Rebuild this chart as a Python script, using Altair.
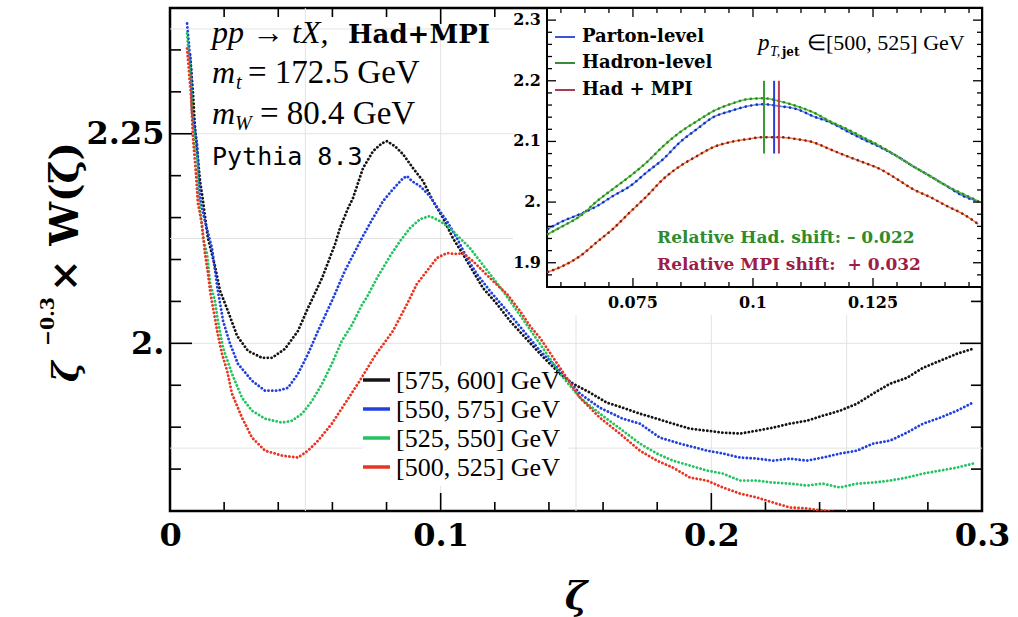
import altair as alt
import pandas as pd

# ----------------------------- main panel data -----------------------------
BINS = ["[575, 600] GeV", "[550, 575] GeV", "[525, 550] GeV", "[500, 525] GeV"]
BIN_COLORS = ["#141414", "#2040e0", "#22c460", "#ea3420"]

zeta_575 = [0.0074, 0.0085, 0.0092, 0.0111, 0.0122, 0.0140, 0.0166, 0.0185, 0.0211, 0.0248, 0.0288, 0.0340,
            0.0377, 0.0425, 0.0473, 0.0510, 0.0562, 0.0610, 0.0628, 0.0658, 0.0676, 0.0713, 0.0750, 0.0783,
            0.0802, 0.0831, 0.0861, 0.0898, 0.0935, 0.0972, 0.1009, 0.1045, 0.1082, 0.1119, 0.1156, 0.1208,
            0.1256, 0.1330, 0.1385, 0.1441, 0.1489, 0.1552, 0.1614, 0.1673, 0.1736, 0.1799, 0.1858, 0.1921,
            0.1984, 0.2043, 0.2106, 0.2168, 0.2228, 0.2290, 0.2353, 0.2412, 0.2475, 0.2538, 0.2597, 0.2660,
            0.2723, 0.2782, 0.2845, 0.2907, 0.2966]
w_575 = [2.3446, 2.2982, 2.2589, 2.1935, 2.1696, 2.1256, 2.0923, 2.0625, 2.0411, 2.0089, 1.9911, 1.9827,
         1.9827, 1.9935, 2.0149, 2.0423, 2.0780, 2.1185, 2.1375, 2.1613, 2.1732, 2.2089, 2.2292, 2.2387,
         2.2411, 2.2351, 2.2256, 2.2089, 2.1935, 2.1696, 2.1494, 2.1256, 2.1065, 2.0863, 2.0661, 2.0470,
         2.0268, 2.0006, 1.9815, 1.9637, 1.9518, 1.9411, 1.9292, 1.9232, 1.9161, 1.9101, 1.9042, 1.8982,
         1.8958, 1.8935, 1.8923, 1.8958, 1.8994, 1.9042, 1.9077, 1.9137, 1.9196, 1.9280, 1.9399, 1.9518,
         1.9589, 1.9708, 1.9792, 1.9875, 1.9935]

zeta_550 = [0.0063, 0.0078, 0.0081, 0.0100, 0.0111, 0.0129, 0.0155, 0.0174, 0.0196, 0.0222, 0.0251, 0.0303,
            0.0351, 0.0399, 0.0436, 0.0473, 0.0510, 0.0547, 0.0598, 0.0646, 0.0713, 0.0750, 0.0787, 0.0824,
            0.0861, 0.0876, 0.0894, 0.0924, 0.0960, 0.0997, 0.1023, 0.1060, 0.1097, 0.1134, 0.1182, 0.1245,
            0.1367, 0.1441, 0.1515, 0.1588, 0.1673, 0.1736, 0.1810, 0.1884, 0.1984, 0.2043, 0.2106, 0.2168,
            0.2228, 0.2290, 0.2353, 0.2412, 0.2475, 0.2538, 0.2597, 0.2660, 0.2723, 0.2782, 0.2845, 0.2907,
            0.2966]
w_550 = [2.3815, 2.3268, 2.2768, 2.2375, 2.1732, 2.1458, 2.1137, 2.0685, 2.0268, 1.9994, 1.9756, 1.9554,
         1.9435, 1.9435, 1.9470, 1.9637, 1.9875, 2.0149, 2.0506, 2.0863, 2.1280, 2.1494, 2.1696, 2.1839,
         2.1970, 2.1994, 2.1935, 2.1875, 2.1756, 2.1577, 2.1458, 2.1256, 2.1018, 2.0827, 2.0625, 2.0387,
         1.9911, 1.9673, 1.9399, 1.9232, 1.9101, 1.9042, 1.8875, 1.8804, 1.8720, 1.8685, 1.8637, 1.8625,
         1.8601, 1.8625, 1.8601, 1.8637, 1.8685, 1.8720, 1.8804, 1.8839, 1.8935, 1.9042, 1.9113, 1.9196,
         1.9292]

zeta_525 = [0.0063, 0.0078, 0.0085, 0.0092, 0.0100, 0.0103, 0.0122, 0.0137, 0.0148, 0.0166, 0.0177, 0.0196,
            0.0229, 0.0266, 0.0303, 0.0351, 0.0414, 0.0451, 0.0488, 0.0525, 0.0562, 0.0598, 0.0635, 0.0672,
            0.0709, 0.0728, 0.0765, 0.0813, 0.0850, 0.0887, 0.0924, 0.0960, 0.0997, 0.1034, 0.1071, 0.1108,
            0.1145, 0.1182, 0.1230, 0.1282, 0.1367, 0.1441, 0.1515, 0.1588, 0.1673, 0.1736, 0.1799, 0.1858,
            0.1921, 0.1984, 0.2043, 0.2106, 0.2168, 0.2228, 0.2290, 0.2353, 0.2412, 0.2475, 0.2538, 0.2597,
            0.2660, 0.2723, 0.2782, 0.2845, 0.2907, 0.2966]
w_525 = [2.3696, 2.3089, 2.2613, 2.2327, 2.2208, 2.1851, 2.1256, 2.1065, 2.0720, 2.0506, 2.0268, 1.9946,
         1.9637, 1.9351, 1.9196, 1.9101, 1.9054, 1.9077, 1.9161, 1.9315, 1.9518, 1.9756, 2.0030, 2.0220,
         2.0458, 2.0554, 2.0780, 2.1042, 2.1220, 2.1375, 2.1482, 2.1518, 2.1458, 2.1375, 2.1256, 2.1137,
         2.0982, 2.0827, 2.0625, 2.0387, 1.9994, 1.9637, 1.9351, 1.9161, 1.8958, 1.8804, 1.8685, 1.8601,
         1.8542, 1.8482, 1.8446, 1.8363, 1.8363, 1.8339, 1.8327, 1.8304, 1.8327, 1.8280, 1.8327, 1.8339,
         1.8363, 1.8399, 1.8446, 1.8482, 1.8518, 1.8565]

zeta_500 = [0.0063, 0.0078, 0.0085, 0.0096, 0.0103, 0.0118, 0.0129, 0.0140, 0.0148, 0.0174, 0.0192, 0.0211,
            0.0229, 0.0266, 0.0303, 0.0351, 0.0414, 0.0473, 0.0510, 0.0547, 0.0598, 0.0646, 0.0694, 0.0757,
            0.0824, 0.0876, 0.0912, 0.0949, 0.0986, 0.1023, 0.1060, 0.1082, 0.1119, 0.1156, 0.1193, 0.1245,
            0.1293, 0.1330, 0.1367, 0.1441, 0.1515, 0.1588, 0.1662, 0.1736, 0.1799, 0.1858, 0.1921, 0.1984,
            0.2043, 0.2106, 0.2168, 0.2228, 0.2290, 0.2353, 0.2412, 0.2460]
w_500 = [2.3518, 2.2935, 2.2446, 2.2018, 2.1673, 2.1423, 2.1077, 2.0839, 2.0625, 2.0149, 1.9875, 1.9673,
         1.9399, 1.9113, 1.8875, 1.8720, 1.8661, 1.8637, 1.8720, 1.8839, 1.9042, 1.9280, 1.9518, 1.9851,
         2.0149, 2.0470, 2.0708, 2.0863, 2.1018, 2.1077, 2.1065, 2.1077, 2.0982, 2.0863, 2.0744, 2.0589,
         2.0387, 2.0208, 2.0065, 1.9708, 1.9351, 1.9113, 1.8923, 1.8720, 1.8601, 1.8518, 1.8399, 1.8363,
         1.8280, 1.8208, 1.8161, 1.8101, 1.8042, 1.8030, 1.8006, 1.7985]

# ----------------------------- inset data -----------------------------
LEVELS = ["Parton-level", "Hadron-level", "Had + MPI"]
inset_zeta = [0.0573, 0.0604, 0.0640, 0.0675, 0.0708, 0.0744, 0.0779, 0.0813, 0.0848, 0.0883, 0.0917,
              0.0952, 0.0988, 0.1021, 0.1056, 0.1092, 0.1125, 0.1160, 0.1196, 0.1229, 0.1265, 0.1300,
              0.1333, 0.1369, 0.1404, 0.1438, 0.1469]
inset_parton = [1.9556, 1.9687, 1.9802, 1.9934, 2.0099, 2.0263, 2.0494, 2.0708, 2.0988, 2.1202, 2.1399,
                2.1498, 2.1580, 2.1613, 2.1580, 2.1531, 2.1416, 2.1317, 2.1169, 2.1037, 2.0905, 2.0757,
                2.0593, 2.0428, 2.0263, 2.0099, 2.0016]
inset_hadron = [1.9473, 1.9605, 1.9770, 2.0016, 2.0214, 2.0428, 2.0658, 2.0922, 2.1152, 2.1333, 2.1498,
                2.1613, 2.1695, 2.1712, 2.1663, 2.1580, 2.1481, 2.1333, 2.1202, 2.1070, 2.0922, 2.0757,
                2.0593, 2.0428, 2.0263, 2.0132, 2.0016]
inset_mpi = [1.8848, 1.8947, 1.9111, 1.9342, 1.9556, 1.9835, 2.0099, 2.0379, 2.0593, 2.0757, 2.0905,
             2.0988, 2.1037, 2.1070, 2.1070, 2.1037, 2.0988, 2.0872, 2.0757, 2.0658, 2.0543, 2.0379,
             2.0214, 2.0082, 1.9934, 1.9802, 1.9638]
peak_zeta = [0.1044, 0.1023, 0.1054]          # parton, hadron, had+mpi
peak_span = [2.08, 2.20]

# ----------------------------- ticks / grid -----------------------------
x_labels = [0.0, 0.1, 0.2, 0.3]
x_major = [0.1, 0.2]
x_minor = [0.02, 0.04, 0.06, 0.08, 0.12, 0.14, 0.16, 0.18, 0.22, 0.24, 0.26, 0.28]
y_major = [2.0, 2.25]
y_minor = [1.85, 1.9, 1.95, 2.05, 2.1, 2.15, 2.2, 2.3, 2.35]
grid_x = [0.05, 0.1, 0.15, 0.2, 0.25]
grid_y = [1.875, 2.0, 2.125, 2.25, 2.375]

ix_major = [0.075, 0.1, 0.125]
ix_minor = [0.06, 0.065, 0.07, 0.08, 0.085, 0.09, 0.095, 0.105, 0.11, 0.115, 0.12, 0.13, 0.135, 0.14, 0.145]
ix_labels = ["0.075", "0.1", "0.125"]
iy_major = [1.9, 2.0, 2.1, 2.2, 2.3]
iy_minor = [1.88, 1.92, 1.94, 1.96, 1.98, 2.02, 2.04, 2.06, 2.08, 2.12, 2.14, 2.16, 2.18,
            2.22, 2.24, 2.26, 2.28]
iy_labels = ["1.9", "2.", "2.1", "2.2", "2.3"]

# ----------------------------- layout / style -----------------------------
W, H = 812, 503
SERIF = "DejaVu Serif"          # bold serif
REG = "Liberation Serif"        # regular / italic serif
XS = alt.Scale(domain=[0.0, 0.3], nice=False, zero=False)
YS = alt.Scale(domain=[1.8, 2.4], nice=False, zero=False)
INX0, INX1, INY0, INY1 = 377, 812, 0, 279
IXS = alt.Scale(domain=[0.0571, 0.1477], range=[INX0, INX1], nice=False, zero=False)
IYS = alt.Scale(domain=[1.86, 2.32], range=[INY1, INY0], nice=False, zero=False)

X_AX = alt.Axis(values=x_labels, labelExpr="datum.value == 0 ? '0' : format(datum.value, '.1f')",
                ticks=False, domain=False, grid=False, title=None, labelFont=SERIF,
                labelFontWeight="bold", labelFontSize=32, labelColor="black", labelPadding=9,
                labelFlush=False, labelOverlap=False)
Y_AX = alt.Axis(values=y_major, labelExpr="datum.value == 2 ? '2.\u00a0' : '2.25'",
                ticks=False, domain=False, grid=False, title=None, labelFont=SERIF,
                labelFontWeight="bold", labelFontSize=32, labelColor="black", labelPadding=6,
                labelOverlap=False)


def one():
    return pd.DataFrame({"k": [0]})


def vals(v):
    return pd.DataFrame({"v": v})


def txt(text, x, y, size, color="black", font=REG, weight="normal", style="normal",
        align="left", baseline="alphabetic", angle=0):
    return alt.Chart(pd.DataFrame({"t": [text]})).mark_text(
        font=font, fontSize=size, fontWeight=weight, fontStyle=style, color=color,
        align=align, baseline=baseline, angle=angle
    ).encode(x=alt.value(x), y=alt.value(y), text="t:N")


def xticks(v, y0, y1, scale, axis, sw=1.6):
    return alt.Chart(vals(v)).mark_rule(color="black", strokeWidth=sw).encode(
        x=alt.X("v:Q", scale=scale, axis=axis), y=alt.value(y0), y2=alt.value(y1))


def yticks(v, x0, x1, scale, axis, sw=1.6):
    return alt.Chart(vals(v)).mark_rule(color="black", strokeWidth=sw).encode(
        y=alt.Y("v:Q", scale=scale, axis=axis), x=alt.value(x0), x2=alt.value(x1))


# ----------------------------- main panel -----------------------------
rows = []
for lab, zs, ws in zip(BINS, [zeta_575, zeta_550, zeta_525, zeta_500], [w_575, w_550, w_525, w_500]):
    for z, w in zip(zs, ws):
        rows.append({"bin": lab, "zeta": z, "W": w})
df_main = pd.DataFrame(rows)

grid_v = alt.Chart(vals(grid_x)).mark_rule(color="#e3e3e3", strokeWidth=1).encode(
    x=alt.X("v:Q", scale=XS, axis=X_AX))
grid_h = alt.Chart(vals(grid_y)).mark_rule(color="#e3e3e3", strokeWidth=1).encode(
    y=alt.Y("v:Q", scale=YS, axis=Y_AX))

inset_bg = alt.Chart(one()).mark_rect(color="white").encode(
    x=alt.value(343), x2=alt.value(810), y=alt.value(2), y2=alt.value(307))
legend_bg = alt.Chart(one()).mark_rect(color="white").encode(
    x=alt.value(192), x2=alt.value(398), y=alt.value(358), y2=alt.value(478))

series = alt.Chart(df_main).mark_line(
    strokeWidth=2.8, strokeDash=[0.1, 3.7], strokeCap="round", clip=True
).encode(
    x=alt.X("zeta:Q", scale=XS, axis=X_AX),
    y=alt.Y("W:Q", scale=YS, axis=Y_AX),
    color=alt.Color("bin:N", scale=alt.Scale(domain=BINS, range=BIN_COLORS), legend=None),
)

main_layers = [grid_v, grid_h, inset_bg, legend_bg, series,
               xticks(x_minor, H, H - 9, XS, X_AX), xticks(x_major, H, H - 18, XS, X_AX),
               xticks(x_minor, 0, 9, XS, X_AX), xticks(x_major, 0, 16, XS, X_AX),
               yticks(y_minor, 0, 11, YS, Y_AX), yticks(y_major, 0, 22, YS, Y_AX),
               yticks(y_minor, W, W - 11, YS, Y_AX), yticks(y_major, W, W - 22, YS, Y_AX)]

# manual legend of the main panel
leg_y = [372, 401, 430, 459]
for lab, col, yy in zip(BINS, BIN_COLORS, leg_y):
    main_layers.append(alt.Chart(one()).mark_rule(color=col, strokeWidth=3.5).encode(
        x=alt.value(193), x2=alt.value(220), y=alt.value(yy)))
    main_layers.append(txt(lab, 226, yy + 1, 26, baseline="middle"))

# annotations
main_layers += [
    txt("pp \u2192 tX,", 42, 35, 32, style="italic"),
    txt("Had+MPI", 178, 35, 26, font=SERIF, weight="bold"),
    txt("m", 42, 75, 32, style="italic"),
    txt("t", 66, 81, 20, style="italic"),
    txt("= 172.5 GeV", 78, 75, 33),
    txt("m", 42, 116, 32, style="italic"),
    txt("W", 65, 122, 20, style="italic"),
    txt("= 80.4 GeV", 90, 116, 33),
    txt("Pythia 8.3", 42, 157, 25, font="DejaVu Sans Mono"),
    # axis titles
    txt("\u03b6", 406, 590, 38, font=SERIF, weight="bold", style="italic", align="center", baseline="middle"),
    txt("\u03b6", -92, 374, 35, font=SERIF, weight="bold", style="italic", angle=270),
    txt("\u22120.3", -116, 338, 19, font=SERIF, weight="bold", angle=270),
    txt("\u00d7 W(\u03b6)", -92, 284, 39, font=SERIF, weight="bold", angle=270),
]
main = alt.layer(*main_layers)

# ----------------------------- inset panel -----------------------------
frame = alt.Chart(pd.DataFrame({"x0": [0.0571], "x1": [0.1477], "y0": [1.86], "y1": [2.32]})).mark_rect(
    fill="white", stroke="black", strokeWidth=2
).encode(x=alt.X("x0:Q", scale=IXS, axis=None), x2="x1:Q",
         y=alt.Y("y0:Q", scale=IYS, axis=None), y2="y1:Q")

LINE_COL = ["#5a8cf0", "#5cbf38", "#f38042"]
DOT_COL = ["#1a2db8", "#2b8a2b", "#8a1e1e"]
PEAK_COL = ["#2a3ed8", "#3a9a3a", "#c2385a"]
LEG_COL = ["#3a55d8", "#3a8a3a", "#a83a52"]

inset_layers = [frame]
for i, (lev, ys) in enumerate(zip(LEVELS, [inset_parton, inset_hadron, inset_mpi])):
    d = pd.DataFrame({"zeta": inset_zeta, "W": ys})
    inset_layers.append(alt.Chart(d).mark_line(color=LINE_COL[i], strokeWidth=1.6, interpolate="monotone").encode(
        x=alt.X("zeta:Q", scale=IXS, axis=None), y=alt.Y("W:Q", scale=IYS, axis=None)))
    inset_layers.append(alt.Chart(d).mark_line(
        color=DOT_COL[i], strokeWidth=2.6, strokeDash=[0.1, 5.5], strokeCap="round", interpolate="monotone"
    ).encode(x=alt.X("zeta:Q", scale=IXS, axis=None), y=alt.Y("W:Q", scale=IYS, axis=None)))

for i in [1, 0, 2]:
    inset_layers.append(alt.Chart(pd.DataFrame({"z": [peak_zeta[i]], "lo": [peak_span[0]], "hi": [peak_span[1]]}))
                        .mark_rule(color=PEAK_COL[i], strokeWidth=2).encode(
        x=alt.X("z:Q", scale=IXS, axis=None), y=alt.Y("lo:Q", scale=IYS, axis=None), y2="hi:Q"))

inset_layers += [
    xticks(ix_minor, INY1, INY1 - 5, IXS, None, 1.3), xticks(ix_major, INY1, INY1 - 9, IXS, None, 1.3),
    xticks(ix_minor, INY0, INY0 + 5, IXS, None, 1.3), xticks(ix_major, INY0, INY0 + 9, IXS, None, 1.3),
    yticks(iy_minor, INX0, INX0 + 5, IYS, None, 1.3), yticks(iy_major, INX0, INX0 + 9, IYS, None, 1.3),
    yticks(iy_minor, INX1, INX1 - 5, IYS, None, 1.3), yticks(iy_major, INX1, INX1 - 9, IYS, None, 1.3),
    alt.Chart(pd.DataFrame({"v": iy_major, "t": iy_labels})).mark_text(
        font=SERIF, fontWeight="bold", fontSize=16, align="right", baseline="middle", color="black"
    ).encode(x=alt.value(INX0 - 6), y=alt.Y("v:Q", scale=IYS, axis=None), text="t:N"),
    alt.Chart(pd.DataFrame({"v": ix_major, "t": ix_labels})).mark_text(
        font=SERIF, fontWeight="bold", fontSize=16, align="center", baseline="middle", color="black"
    ).encode(x=alt.X("v:Q", scale=IXS, axis=None), y=alt.value(INY1 + 16), text="t:N"),
]

for i, (lev, yy) in enumerate(zip(LEVELS, [29, 55, 82])):
    inset_layers.append(alt.Chart(one()).mark_rule(color=LEG_COL[i], strokeWidth=2).encode(
        x=alt.value(385), x2=alt.value(405), y=alt.value(yy)))
    inset_layers.append(txt(lev, 412, yy, 18, font=SERIF, weight="bold", baseline="middle"))

inset_layers += [
    txt("p", 588, 42, 23, style="italic"),
    txt("T,", 600, 48, 14, style="italic"),
    txt("jet", 612, 48, 12, font=SERIF, weight="bold"),
    txt("\u2208[500, 525] GeV", 637, 42, 22),
    txt("Relative Had. shift: \u2013 0.022", 487, 230, 17, color="#2e8b2e", font=SERIF, weight="bold",
        baseline="middle"),
    txt("Relative MPI shift: \u00a0+ 0.032", 487, 257, 17, color="#a01c48", font=SERIF, weight="bold",
        baseline="middle"),
]
inset = alt.layer(*inset_layers)

chart = alt.layer(main, inset).resolve_scale(x="independent", y="independent").properties(
    width=W, height=H,
    padding={"left": 170, "top": 8, "right": 36, "bottom": 106},
    autosize=alt.AutoSizeParams(type="none"),
    background="white",
).configure_view(stroke="black", strokeWidth=2.5)

chart.save("out.html", embed_options={"renderer": "svg", "actions": False})
